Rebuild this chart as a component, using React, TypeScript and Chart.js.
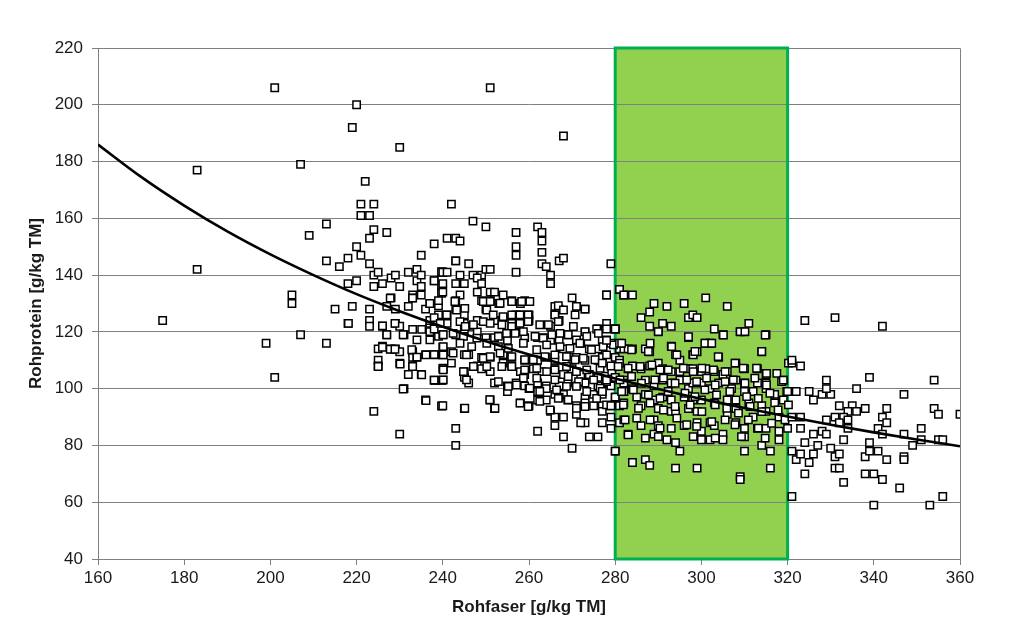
import React, { useEffect, useRef } from "react";
import { Chart, registerables } from "chart.js";

Chart.register(...registerables);

// Axis ranges / ticks
const xMin = 160;
const xMax = 360;
const xStep = 20;
const yMin = 40;
const yMax = 220;
const yStep = 20;

// Target zone (Rohfaser 280–320 g/kg TM)
const zoneFrom = 280;
const zoneTo = 320;

// Trend curve
const trendFiber = [160, 170, 180, 190, 200, 210, 220, 230, 240, 250, 260, 270, 280, 290, 300, 310, 320, 330, 340, 350, 360];
const trendProtein = [186, 174.6, 164.5, 155.4, 147.3, 140, 133.3, 127.3, 121.8, 116.7, 112, 107.7, 103.6, 99.9, 96.4, 93.2, 90.2, 87.3, 84.6, 82.1, 79.7];

// Samples: [Rohfaser, Rohprotein]
const outliers: [number, number][] = [
  [175,124],[183,177],[183,142],[199,116],[201,206],[201,104],[205,133],[205,130],[207,179],[207,119],[209,154],[213,158],[213,145],[213,116],[215,128],[216,143],[218,146],[218,137],[218,123],[219,192],[219,129],[220,200],[220,150],[220,138],[221,165],[221,161],[221,147],[222,173],[223,161],[223,153],[223,144],[223,128],[223,124],[223,122],[224,165],[224,156],[224,140],[224,136],[224,92],[225,141],[225,114],[225,110],[225,108],[226,137],[226,122],[226,115],[227,155],[227,129],[227,119],[228,139],[228,132],[228,114],[229,128],[229,123],[229,114],[229,140],[230,185],[230,136],[230,122],[230,113],[230,109],[230,84],[231,119],[231,100],[232,141],[232,129],[232,105],[233,133],[233,132],[233,113],[233,111],[233,108],[234,142],[234,138],[234,111],[235,147],[235,136],[235,133],[235,140],[235,105],[236,128],[236,112],[236,96],[237,130],[238,151],[238,138],[238,112],[238,103],[240,141],[249,140],
  [241,153],[242,165],[243,153],[244,152],[243,145],[247,159],[250,157],[251,206],[257,155],[257,150],[257,147],[262,157],[263,155],[263,152],[263,148],[268,189],[279,144]
];

const clusterWestInner: [number, number][] = [
  [239.7,141.2],[239.7,136.2],[233,131.9],[239.7,133.6],[227.8,131.9],[239,129.2],[218.1,123],[226,122.1],[228.9,123],[227,119],[230.8,119],[233,120.9],[235.1,120.9],[237,123],[237,120.1],[234,117.2],[237,117.2],[239,118.4],
  [226,114.6],[227.8,113.9],[228.9,113.9],[232.8,113.7],[234,111.1],[236.1,111.9],[238.2,111.9],[240,114.6],[240,111.9],[225,107.8],[230.1,108.7],[233,107.8],[240.1,107.2],[235.1,104.9],[238.2,102.9],[239.7,102.9],[230.8,99.9],[236.1,95.8],[239.7,93.9]
];

const clusterWest: [number, number][] = [
  [243,145],[246,144],[250,142],[257,141],[263,144],[264,143],[267,145],[268,146],[238,138],[240,141],[241,141],[244,140],[247,140],[248,139],[251,142],[249,137],[265,140],[265,137],
  [240,137],[243,137],[245,137],[240,134],[244,133],[248,134],[251,134],[252,134],[254,133],[249,131],[251,131],[253,130],[256,131],[258,130],[259,131],[243,131],[239,131],[237,130],[239,126],[241,126],[243,128],[245,126],[248,124],[250,128],[252,124],[254,125],[256,123],[257,126],[258,126],[260,126],[258,124],[260,124],[266,129],[267,128],[270,132],[271,129],[273,128],[266,126],[267,124],[265,122],[278,133],[281,135],[282,133],[237,124],[238,125],[241,123],[245,123],[247,122],[256,120],[257,120],[273,120],[276,121],[278,123],[280,121],
  [238,121],[240,119],[243,119],[245,120],[248,120],[250,118],[252,118],[255,117],[259,118],[262,118],[264,118],[265,117],[267,117],[269,119],[271,117],[272,116],[274,114],[276,114],[277,117],[279,116],[281,114],[282,114],
  [238,112],[240,112],[242,113],[245,112],[246,112],[249,111],[251,111],[254,112],[256,111],[259,110],[262,110],[264,111],[266,110],[268,114],[270,111],[271,111],[273,110],[276,110],[277,111],[280,111],[281,110],
  [240,107],[242,109],[245,106],[248,108],[249,107],[251,106],[254,109],[256,108],[258,106],[259,105],[261,107],[263,106],[266,107],[268,105],[270,107],[272,105],[274,105],[276,104],[278,107],[280,104],[282,103],
  [238,103],[240,103],[245,104],[246,102],[252,102],[255,101],[257,102],[259,101],[262,102],[264,101],[267,101],[269,102],[271,101],[273,102],[276,101],[278,102],[279,101],
  [255,99],[260,100],[262,99],[264,100],[266,98],[268,98],[273,97],[275,98],[277,98],[280,97],[282,99],
  [251,96],[252,93],[258,95],[260,94],[262,96],[264,96],[267,97],[269,96],[271,94],[273,95],[275,94],[277,94],[279,94],[281,94],
  [240,94],[245,93],[265,92],[266,90],[268,90],[271,91],[273,88],[272,88],[277,92],[279,90],[281,88],[266,87],[277,88],
  [243,86],[262,85],[268,83],[274,83],[276,83],[270,79],[243,80],[280,78]
];

const clusterWestDense: [number, number][] = [
  [242.8,130.7],[249.4,130.7],[251,130.7],[253.3,130.1],[256,130.7],[258.3,130.7],[260.2,130.7],[266.8,129.2],[271,129],[273,128],
  [240.9,126],[243.2,127.7],[245.1,128.3],[250.2,127.7],[251.7,126],[254,125.4],[256,126],[257.9,126],[259.8,126],[266,126],[268,127.7],[270.7,126],
  [239.4,123],[244,123.6],[245.2,121.9],[247.1,122.5],[249.4,123.6],[251,123],[253.7,122.5],[256,121.9],[257.9,123],[259.8,123.6],[262.5,122.5],[264.5,122.5],[266.8,123.6],[270.3,121.9],[273,120.1],[275.7,121],[278,121],[280,121],
  [240.1,119],[242.4,119.5],[244.8,118.4],[247.9,117.8],[252.9,118.4],[254.8,119.5],[256.8,119.5],[258.7,120.1],[261.4,118.4],[263.3,117.8],[265.3,119],[267.2,119.5],[269.1,119],[271,117.2],[273.4,118.4],[276.1,119.5],[278,117.2],
  [240.1,114.8],[244,116],[246.7,114.8],[250.2,116],[252.9,114.8],[255.2,114.2],[258.7,116],[261.8,113.7],[264.1,115.4],[267.2,114.8],[269.5,114.2],[271.8,116],[274.5,113.7],[277.2,114.8],[279.6,115.4],
  [240.1,111.9],[242.4,112.5],[245.5,111.9],[249.4,110.7],[251,111.3],[253.3,112.5],[256,111.3],[259,110.2],[261,110.2],[263.7,111.3],[266,111.9],[268.7,111.3],[270.7,110.2],[272.6,110.7],[275.3,110.2],[278,111.9],
  [240.1,106.6],[244.8,106],[247.1,107.8],[250.2,107.8],[253.7,107.8],[256,107.8],[259,106.6],[261.8,107.2],[264.1,106],[266,106.6],[268.7,107.8],[271,106],[273.4,106.6],[276.5,107.2],[279.2,106],
  [240.1,103.1],[245.5,103.1],[252.9,102.5],[258.7,103.7],[261.8,103.7],[266,103.1],[269.1,104.3],[271.5,102.5],[275,103.1],[278,102.5],
  [255.2,100.8],[257.1,101.3],[260.2,100.2],[262.5,99],[266.4,99.6],[268.7,100.8],[271,100.8],[273.4,99],[276.5,100.2],
  [250.9,96.1],[252.1,93.1],[257.9,94.9],[259.8,93.7],[262.5,95.5],[264.9,92.5],[266.8,96.6],[269.1,96.1],[271,93.1],[273,93.7],[275.7,96.6],[278,94.3],[245.1,93.1]
];

const greenZone: [number, number][] = [
  [278,133],[281,135],[282,133],[284,133],[289,130],[292,129],[296,130],[301,132],[306,129],[288,127],[286,125],[288,122],[290,120],[291,123],[293,122],[297,125],[298,126],[299,125],[303,121],[305,119],[309,120],[310,120],[311,123],[315,119],[280,121],[278,117],[297,118],[301,116],[302,116],[281,116],[283,114],[284,114],[288,113],[287,114],[293,115],[294,112],[295,110],[298,112],[299,113],[304,111],[314,113],[308,109],[310,107],[313,107],[315,105],[319,103],
  [277,109],[279,108],[281,109],[283,107],[284,108],[286,107],[288,108],[290,109],[291,107],[293,106],[295,106],[297,107],[298,107],[300,106],[301,107],[303,106],[305,105],[306,106],[308,103],[310,102],[313,102],[315,102],
  [278,103],[280,104],[282,102],[284,100],[287,103],[289,101],[291,103],[293,102],[295,103],[297,100],[298,102],[300,102],[302,100],[304,102],[307,100],[310,99],[312,99],[315,100],[317,98],
  [277,99],[280,97],[282,99],[285,97],[287,98],[289,96],[291,97],[293,96],[296,97],[298,96],[300,96],[303,95],[306,96],[308,96],[311,95],[314,94],[317,95],[319,96],
  [279,94],[282,95],[286,94],[290,93],[293,92],[294,92],[297,93],[299,92],[302,88],[306,91],[308,93],[312,90],[315,92],[318,90],
  [279,86],[282,89],[286,87],[289,89],[290,87],[293,86],[296,87],[299,88],[300,85],[303,87],[305,84],[308,88],[310,86],[313,86],[315,86],[318,85],
  [283,84],[289,84],[292,82],[294,81],[300,82],[302,82],[305,82],[310,83],[314,80],[316,78],[318,82],
  [280,78],[295,78],[310,78],[284,74],[287,75],[288,73],[294,72],[299,72],[309,69],[309,68],[316,72]
];

const greenZoneDense: [number, number][] = [
  [290,120.1],[297,118.3],[305.1,118.9],[309,120.1],[310.1,120.1],[314.8,118.9],
  [281.5,116],[283.8,113.7],[287.7,113.1],[288.1,116],[293.1,114.8],[294.3,111.9],[298.1,111.9],[298.5,113.1],[300.8,116],[302.4,116],[303.9,111.3],[314,113.1],
  [280.7,107.8],[283,107.2],[285.8,107.8],[288.5,108.4],[290.4,106.6],[292.3,106.6],[295.8,107.2],[298.1,106],[300.1,107.2],[302.8,106.6],[305.5,106],[307.8,109],[309.7,107.2],[312.8,107.2],[315.1,105.4],[317.5,105.4],[320.2,109],
  [281.1,103.1],[283.8,104.3],[286.1,101.9],[289.2,103.1],[291.2,103.7],[293.9,101.9],[296.6,103.1],[298.9,102.5],[301.2,103.7],[303.2,101.3],[305.5,102.5],[307.4,103.1],[310.1,101.9],[312.4,103.7],[315.1,101.3],[318.6,102.5],
  [281.5,99],[284.2,99.6],[287.7,97.8],[290.4,96.6],[292.3,99],[296.2,98.4],[298.5,97.2],[300.8,99.6],[303.5,97.8],[306.6,99],[310.5,97.2],[313.2,96.6],[315.9,98.4],[319.8,99],
  [281.9,94.3],[285.4,93.1],[288.1,94.9],[291.2,92.5],[293.9,93.7],[297.4,94.3],[300.1,91.9],[303.2,94.3],[305.9,93.1],[308.6,91.4],[311.3,93.7],[314,91.9],[317.8,92.5],[320.2,94.3],
  [282.3,89],[285,89.6],[288.1,89],[290.4,86.1],[294.3,89.6],[296.6,87.3],[298.9,86.7],[302.4,88.4],[305.5,89],[307.8,87.3],[310.9,89],[313.2,86.1],[316.3,87.8],[319.4,89],
  [283,83.7],[287,82.6],[290,83.1],[298.1,83.1],[303.2,82.6],[309.3,83.1],[314.8,82.6]
];

const eastZone: [number, number][] = [
  [324,124],[331,125],[342,122],[321,109],[321,110],[323,108],[329,103],[339,104],[354,103],[336,100],[325,99],[326,96],[328,98],[330,98],[329,100],[347,98],[319,103],[320,99],[322,99],
  [332,94],[335,94],[338,93],[343,93],[336,92],[334,92],[331,90],[329,89],[333,90],[334,89],[354,93],[355,91],[360,91],[342,90],[343,88],[341,86],[351,86],[347,84],[334,86],[332,88],[323,90],[321,90],[320,86],[323,86],[326,84],[328,85],[329,84],[333,82],[324,81],[342,84],[339,81],[349,80],[351,82],[355,82],[356,82],
  [321,78],[322,75],[323,77],[326,77],[327,80],[330,79],[331,76],[332,77],[325,74],[331,72],[338,76],[339,78],[341,78],[343,75],[347,76],[347,75],[324,70],[338,70],[340,70],[342,68],[332,72],[333,67],[346,65],[321,62],[340,59],[353,59],[356,62]
];

const FONT = "'Liberation Sans', Arial, sans-serif";

const zonePlugin = {
  id: "zone",
  beforeDraw(chart: any) {
    const { ctx, chartArea, scales } = chart;
    const x1 = scales.x.getPixelForValue(zoneFrom);
    const x2 = scales.x.getPixelForValue(zoneTo);
    const y1 = scales.y.getPixelForValue(yMax);
    const y2 = scales.y.getPixelForValue(yMin);
    ctx.save();
    ctx.fillStyle = "#ffffff";
    ctx.fillRect(0, 0, chart.width, chart.height);
    ctx.fillStyle = "#92d050";
    ctx.fillRect(x1, y1, x2 - x1, y2 - y1);
    ctx.strokeStyle = "#808080";
    ctx.lineWidth = 1;
    ctx.beginPath();
    ctx.moveTo(chartArea.left, chartArea.top + 0.5);
    ctx.lineTo(chartArea.right + 0.5, chartArea.top + 0.5);
    ctx.lineTo(chartArea.right + 0.5, chartArea.bottom);
    ctx.stroke();
    ctx.restore();
  },
  beforeDatasetsDraw(chart: any) {
    const { ctx, scales } = chart;
    const x1 = scales.x.getPixelForValue(zoneFrom);
    const x2 = scales.x.getPixelForValue(zoneTo);
    const y1 = scales.y.getPixelForValue(yMax);
    const y2 = scales.y.getPixelForValue(yMin);
    ctx.save();
    ctx.strokeStyle = "#00b050";
    ctx.lineWidth = 3;
    ctx.strokeRect(x1, y1, x2 - x1, y2 - y1);
    ctx.restore();
  },
};

export default function App() {
  const ref = useRef<HTMLCanvasElement>(null);

  useEffect(() => {
    if (!ref.current) return;
    const samples = [
      ...outliers,
      ...clusterWestInner,
      ...clusterWest,
      ...clusterWestDense,
      ...greenZone,
      ...greenZoneDense,
      ...eastZone,
    ].map(([x, y]) => ({ x, y }));
    const trend = trendFiber.map((x, i) => ({ x, y: trendProtein[i] }));

    const chart = new Chart(ref.current, {
      type: "scatter",
      data: {
        datasets: [
          {
            type: "line",
            label: "Trend",
            data: trend,
            borderColor: "#000000",
            borderWidth: 2.6,
            pointRadius: 0,
            fill: false,
            tension: 0.4,
            cubicInterpolationMode: "monotone",
          } as any,
          {
            label: "Proben",
            data: samples,
            pointStyle: "rect",
            pointRadius: 5.2,
            pointBorderWidth: 1.5,
            pointBackgroundColor: "#ffffff",
            pointBorderColor: "#000000",
          } as any,
        ],
      },
      options: {
        animation: false,
        responsive: false,
        maintainAspectRatio: false,
        layout: { padding: { top: 48, right: 64, left: 0, bottom: 0 } },
        plugins: { legend: { display: false }, tooltip: { enabled: false } },
        scales: {
          x: {
            type: "linear",
            min: xMin,
            max: xMax,
            ticks: { stepSize: xStep, color: "#1a1a1a", font: { family: FONT, size: 17 }, padding: 3, maxRotation: 0 },
            grid: { drawOnChartArea: false, drawTicks: true, tickLength: 6, color: "#808080" },
            border: { color: "#808080", width: 1 },
            title: {
              display: true,
              text: "Rohfaser [g/kg TM]",
              color: "#1a1a1a",
              font: { family: FONT, size: 17, weight: "bold" },
              padding: { top: 0, bottom: 18 },
            },
            afterFit: (s: any) => { s.height = 77; },
          },
          y: {
            type: "linear",
            min: yMin,
            max: yMax,
            ticks: { stepSize: yStep, color: "#1a1a1a", font: { family: FONT, size: 17 }, padding: 9 },
            grid: { color: "#808080", lineWidth: 1, tickLength: 6 },
            border: { color: "#808080", width: 1 },
            title: {
              display: true,
              text: "Rohprotein [g/kg TM]",
              color: "#1a1a1a",
              font: { family: FONT, size: 17, weight: "bold" },
              padding: { top: 26, bottom: 0 },
            },
            afterFit: (s: any) => { s.width = 98; },
          },
        },
      },
      plugins: [zonePlugin],
    });
    return () => chart.destroy();
  }, []);

  return (
    <div style={{ position: "fixed", left: 0, top: 0, width: 1024, height: 636, background: "#ffffff" }}>
      <canvas ref={ref} width={1024} height={636} style={{ width: 1024, height: 636, display: "block" }} />
    </div>
  );
}
